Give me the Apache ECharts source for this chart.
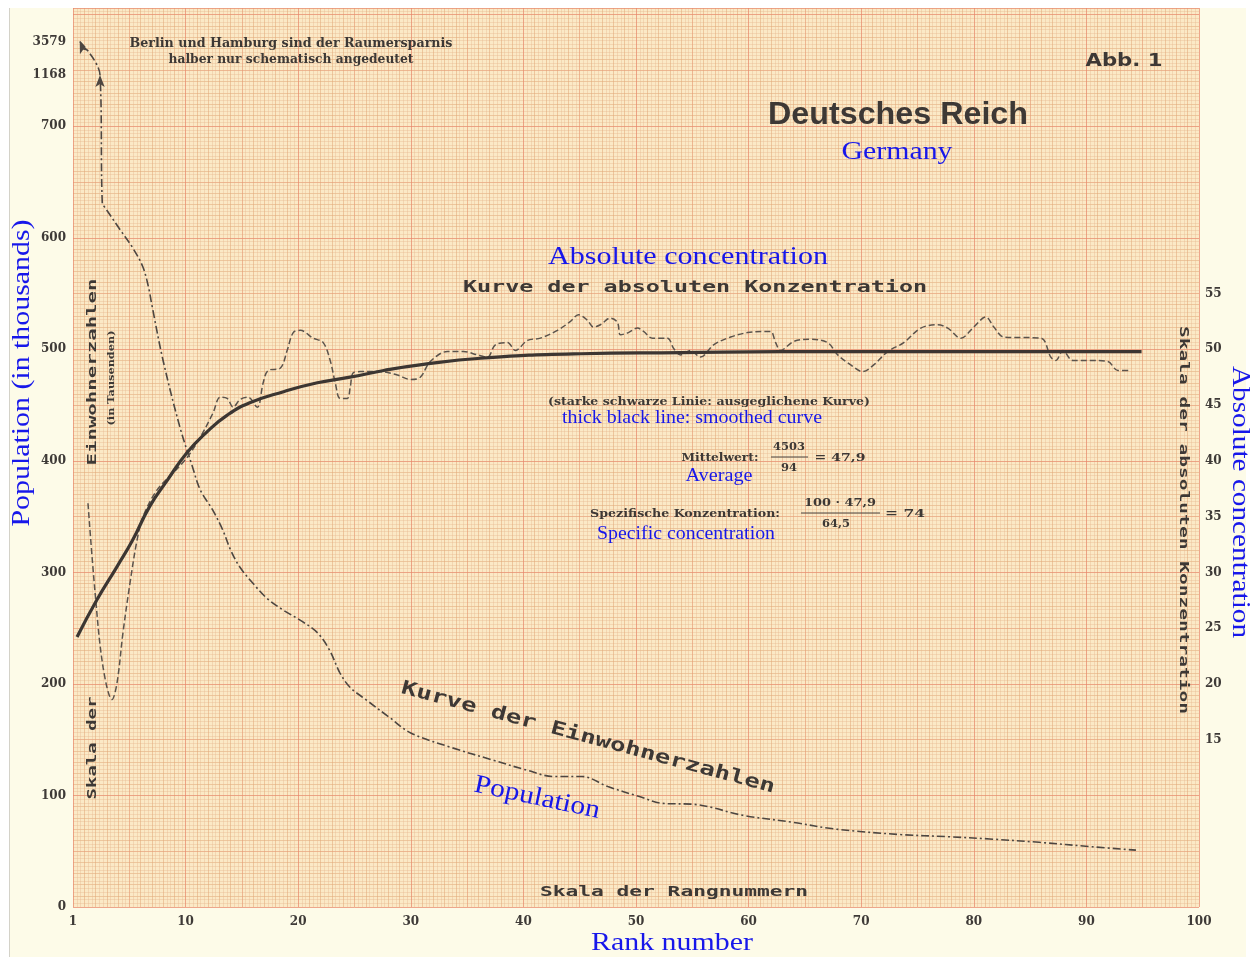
<!DOCTYPE html>
<html>
<head>
<meta charset="utf-8">
<title>Deutsches Reich – Kurve der absoluten Konzentration</title>
<script src="https://cdn.jsdelivr.net/npm/echarts@6.0.0/dist/echarts.min.js"></script>
<style>
  html, body { margin: 0; padding: 0; background: #ffffff; }
  #paper { position: absolute; left: 9px; top: 8px; width: 1236px; height: 949px;
           background: #fdfbe8; border-left: 1px solid #d4d2c8; }
  #chart { position: absolute; left: 0; top: 0; width: 1255px; height: 957px; }
</style>
</head>
<body>
<div id="paper"></div>
<div id="chart"></div>
<script>
// Kurve der Einwohnerzahlen: rank number and population (in thousands)
const popRank = [0.6, 2.4, 2.6, 2.85, 4.2, 5.3, 6.2, 6.7, 7.0, 8.0, 9.5, 10.6, 11.3, 12.4, 13.3, 14.0,
  14.8, 16.0, 17.2, 18.7, 20.2, 21.7, 22.8, 23.7, 24.6, 26.0, 28.1, 30.0, 33.6, 37.2, 40.2, 42.7,
  45.2, 47.5, 50.3, 52.3, 55.2, 59.6, 63.9, 67.6, 73.4, 77.8, 81.4, 85.8, 90.5, 94.4];
const popValue = [3579, 1168, 631, 627, 607, 591, 574, 556, 540, 490, 430, 395, 374, 356, 338, 320,
  305, 290, 277, 266, 257, 246, 230, 210, 197, 186, 170, 156, 143, 132, 123, 117,
  117, 108, 99, 93, 92, 82, 76, 70, 65, 63, 61, 58, 54, 51];

// Kurve der absoluten Konzentration (dashed)
const concRank = [1.33, 1.96, 2.67, 3.47, 3.91, 4.44, 5.07, 5.69, 6.22, 7.47, 8.89, 10.13, 11.29, 12.44,
  13.07, 13.69, 14.22, 14.84, 15.56, 16.36, 16.89, 17.33, 18.4, 19.02, 19.56, 20.18, 21.33, 22.22,
  22.84, 23.29, 23.73, 24.36, 24.62, 24.89, 25.51, 27.3, 28.8, 29.96, 30.84, 31.73, 33.24, 34.67,
  35.91, 36.8, 37.51, 38.58, 39.29, 40.36, 41.51, 43.02, 44.18, 44.89, 45.69, 46.22, 46.84, 47.73,
  48.36, 48.62, 49.33, 50.13, 50.67, 51.47, 52.8, 53.33, 53.96, 54.84, 55.73, 56.89, 58.4, 59.91,
  61.33, 61.96, 62.4, 62.84, 64.0, 65.51, 67.02, 67.91, 69.07, 70.13, 71.11, 72.36, 73.78, 75.29,
  76.8, 77.69, 78.84, 80.0, 81.07, 81.78, 82.67, 85.96, 86.84, 87.29, 87.91, 88.8, 90.4, 91.91,
  92.8, 93.96];
const concValue = [36.2, 28.2, 21.5, 18.6, 20.1, 24.6, 29.1, 32.9, 35.0, 37.4, 38.9, 40.3, 42.1, 44.3,
  45.7, 45.6, 44.8, 45.5, 45.7, 44.8, 47.0, 48.1, 48.3, 49.9, 51.5, 51.7, 51.0, 50.6,
  49.0, 47.0, 45.6, 45.6, 46.6, 47.9, 48.0, 48.0, 47.7, 47.3, 47.5, 48.9, 49.8, 49.8,
  49.5, 49.3, 50.4, 50.6, 49.9, 50.8, 51.0, 51.7, 52.5, 53.1, 52.6, 52.0, 52.2, 52.8,
  52.4, 51.3, 51.5, 51.9, 51.6, 51.0, 51.0, 50.1, 49.5, 49.9, 49.3, 50.4, 51.1, 51.5,
  51.6, 51.6, 50.6, 49.9, 50.7, 50.9, 50.6, 49.5, 48.6, 48.0, 48.6, 49.8, 50.6, 51.9,
  52.2, 51.9, 51.0, 52.0, 52.9, 52.0, 51.1, 51.0, 49.3, 49.0, 49.9, 49.0, 49.0, 48.9,
  48.1, 48.1];

// starke schwarze Linie: ausgeglichene Kurve
const smoothRank = [0.36, 2.1, 3.9, 5.3, 6.8, 8.4, 10.1, 11.9, 13.7, 15.7, 18.7, 21.7, 24.6, 27.6,
  30.8, 36.2, 45.1, 54.0, 62.8, 94.9];
const smoothValue = [24.2, 27.5, 30.5, 32.9, 35.9, 38.3, 40.7, 42.6, 44.1, 45.2, 46.2, 47.0, 47.5, 48.1,
  48.6, 49.2, 49.6, 49.7, 49.8, 49.8];

// tick labels
const popTicks = [0, 100, 200, 300, 400, 500, 600, 700, 1168, 3579];
const concTicks = [15, 20, 25, 30, 35, 40, 45, 50, 55];
// above 700 the population scale is only schematic (Berlin, Hamburg)
const popBreak = [[0, 0], [700, 700], [1168, 746], [3579, 776]];

function popToAxis(v) {
  for (let i = 1; i < popBreak.length; i++) {
    const [p0, a0] = popBreak[i - 1], [p1, a1] = popBreak[i];
    if (v <= p1) return a0 + (v - p0) * (a1 - a0) / (p1 - p0);
  }
  return popBreak[popBreak.length - 1][1];
}
function axisToPop(a) {
  for (let i = 1; i < popBreak.length; i++) {
    const [p0, a0] = popBreak[i - 1], [p1, a1] = popBreak[i];
    if (a <= a1 + 1e-6) return p0 + (a - a0) * (p1 - p0) / (a1 - a0);
  }
  return null;
}

const popData = popRank.map((r, i) => {
  const item = { value: [r, popToAxis(popValue[i])] };
  // arrows for Berlin and Hamburg, which run off the scale
  if (i === 0) Object.assign(item, { symbol: 'arrow', symbolSize: [7, 12], symbolRotate: 22 });
  if (i === 1) Object.assign(item, { symbol: 'arrow', symbolSize: [7, 12], symbolRotate: 0 });
  return item;
});
const concData = concRank.map((r, i) => [r, concValue[i]]);
const smoothData = smoothRank.map((r, i) => [r, smoothValue[i]]);

// text helper: stretch to the width of the printed (letter-spaced) original
const ctx = document.createElement('canvas').getContext('2d');
function txt(text, x, y, o) {
  const family = o.family || 'DejaVu Serif';
  const weight = o.weight || 'bold';
  ctx.font = weight + ' ' + o.size + 'px "' + family + '"';
  const w = ctx.measureText(text).width;
  return {
    type: 'text', x: x, y: y, z: 100,
    rotation: (o.rotate || 0) * Math.PI / 180,
    scaleX: o.width ? o.width / w : 1,
    style: {
      text: text, fontSize: o.size, fontFamily: family, fontWeight: weight,
      fill: o.color || '#3d3835', align: 'center', verticalAlign: 'middle'
    }
  };
}
const BLUE = '#1717ea';
const blue = (text, x, y, size, width, rotate) =>
  txt(text, x, y, { size: size, width: width, rotate: rotate, family: 'Liberation Serif', weight: 'normal', color: BLUE });
const mono = (text, x, y, size, width, rotate) =>
  txt(text, x, y, { size: size, width: width, rotate: rotate, family: 'DejaVu Sans Mono' });
const bar = (x1, x2, y) => ({ type: 'line', z: 100, shape: { x1: x1, y1: y, x2: x2, y2: y },
  style: { stroke: '#4a4440', lineWidth: 1.2 } });

const tickFont = { fontFamily: 'DejaVu Serif', fontWeight: 'bold', fontSize: 12, color: '#3e3a37' };
const paperLine = 'rgba(226, 170, 122, 0.55)';
const paperFine = 'rgba(232, 186, 145, 0.4)';
const paperRed = 'rgba(236, 128, 108, 0.5)';
const paperHalf = 'rgba(236, 140, 115, 0.28)';

const chart = echarts.init(document.getElementById('chart'), null, { renderer: 'canvas' });
chart.setOption({
  backgroundColor: 'transparent',
  animation: false,
  grid: { left: 73, right: 56, top: 8, bottom: 50, show: true, backgroundColor: '#fbe9c6', borderWidth: 0 },
  xAxis: [
    {
      type: 'value', min: 0, max: 100, interval: 10, z: 1,
      axisLine: { show: false }, axisTick: { show: false },
      axisLabel: Object.assign({ margin: 9, formatter: v => (v === 0 ? '1' : String(v)) }, tickFont),
      splitLine: { show: true, lineStyle: { color: paperRed, width: 1 } },
      minorTick: { show: false, splitNumber: 2 },
      minorSplitLine: { show: true, lineStyle: { color: paperHalf, width: 1 } }
    },
    {
      type: 'value', min: 0, max: 100, interval: 1, z: 0, position: 'top',
      axisLine: { show: false }, axisTick: { show: false }, axisLabel: { show: false },
      splitLine: { show: true, lineStyle: { color: paperLine, width: 1 } },
      minorTick: { show: false, splitNumber: 3 },
      minorSplitLine: { show: true, lineStyle: { color: paperFine, width: 1 } }
    }
  ],
  yAxis: [
    {
      type: 'value', min: 0, max: 806, interval: 100, z: 1, position: 'left',
      axisLine: { show: false }, axisTick: { show: false },
      axisLabel: Object.assign({
        margin: 7,
        customValues: popTicks.map(popToAxis),
        formatter: v => {
          const p = Math.round(axisToPop(v));
          return popTicks.indexOf(p) >= 0 ? String(p) : '';
        }
      }, tickFont),
      splitLine: { show: true, lineStyle: { color: paperRed, width: 1 } },
      minorTick: { show: false, splitNumber: 2 },
      minorSplitLine: { show: true, lineStyle: { color: paperHalf, width: 1 } }
    },
    {
      type: 'value', min: 0, max: 80.6, interval: 5, z: 1, position: 'right',
      axisLine: { show: false }, axisTick: { show: false }, splitLine: { show: false },
      axisLabel: Object.assign({
        margin: 6,
        formatter: v => (concTicks.indexOf(v) >= 0 ? String(v) : '')
      }, tickFont)
    },
    {
      type: 'value', min: 0, max: 806, interval: 10, z: 0, position: 'left', offset: 0,
      axisLine: { show: false }, axisTick: { show: false }, axisLabel: { show: false },
      splitLine: { show: true, lineStyle: { color: paperLine, width: 1 } },
      minorTick: { show: false, splitNumber: 3 },
      minorSplitLine: { show: true, lineStyle: { color: paperFine, width: 1 } }
    }
  ],
  series: [
    {
      name: 'Kurve der Einwohnerzahlen', type: 'line', xAxisIndex: 0, yAxisIndex: 0,
      data: popData, smooth: 0.35, symbol: 'none', z: 5,
      itemStyle: { color: '#4d4641' },
      lineStyle: { color: '#4d4641', width: 1.6, type: [8, 3, 2, 3] }
    },
    {
      name: 'Kurve der absoluten Konzentration', type: 'line', xAxisIndex: 0, yAxisIndex: 1,
      data: concData, smooth: 0.35, symbol: 'none', z: 5,
      lineStyle: { color: '#5b534c', width: 1.5, type: [6, 3] }
    },
    {
      name: 'ausgeglichene Kurve', type: 'line', xAxisIndex: 0, yAxisIndex: 1,
      data: smoothData, smooth: 0.5, symbol: 'none', z: 6,
      lineStyle: { color: '#3c3632', width: 3.2 }
    }
  ],
  graphic: { elements: [
    txt('Berlin und Hamburg sind der Raumersparnis', 291, 44, { size: 12, width: 323 }),
    txt('halber nur schematisch angedeutet', 291, 60, { size: 12, width: 245 }),
    txt('Abb. 1', 1124, 62, { size: 17, width: 77, family: 'DejaVu Sans' }),
    txt('Deutsches Reich', 898, 115, { size: 31, width: 260, family: 'Liberation Sans' }),
    blue('Germany', 897, 152, 25, 111),
    blue('Absolute concentration', 688, 257, 26, 280),
    mono('Kurve der absoluten Konzentration', 695, 288, 16, 464),
    txt('(starke schwarze Linie: ausgeglichene Kurve)', 709, 402, { size: 11, width: 322 }),
    blue('thick black line: smoothed curve', 692, 418, 18, 260),
    txt('Mittelwert:', 720, 458, { size: 11, width: 77 }),
    txt('4503', 789, 447, { size: 11, width: 32 }),
    bar(771, 808, 457),
    txt('94', 789, 468, { size: 11, width: 16 }),
    txt('= 47,9', 840, 458, { size: 11, width: 51 }),
    blue('Average', 719, 476, 18, 67),
    txt('Spezifische Konzentration:', 685, 514, { size: 11, width: 190 }),
    txt('100 · 47,9', 840, 503, { size: 11, width: 72 }),
    bar(801, 880, 513),
    txt('64,5', 836, 524, { size: 11, width: 28 }),
    txt('= 74', 905, 514, { size: 11, width: 40 }),
    blue('Specific concentration', 686, 534, 18, 178),
    mono('Einwohnerzahlen', 93, 372, 13, 187, 90),
    txt('(in Tausenden)', 112, 378, { size: 9, width: 95, rotate: 90 }),
    mono('Skala der', 93, 748, 13, 103, 90),
    blue('Population (in thousands)', 22, 373, 26, 307, 90),
    mono('Skala der absoluten Konzentration', 1183, 520, 12, 388, -90),
    blue('Absolute concentration', 1240, 502, 26, 272, -90),
    mono('Kurve der Einwohnerzahlen', 588, 738, 19, 386, -15),
    blue('Population', 537, 798, 26, 128, -12),
    mono('Skala der Rangnummern', 674, 892, 14, 268),
    blue('Rank number', 672, 943, 26, 162)
  ] }
});
</script>
</body>
</html>
